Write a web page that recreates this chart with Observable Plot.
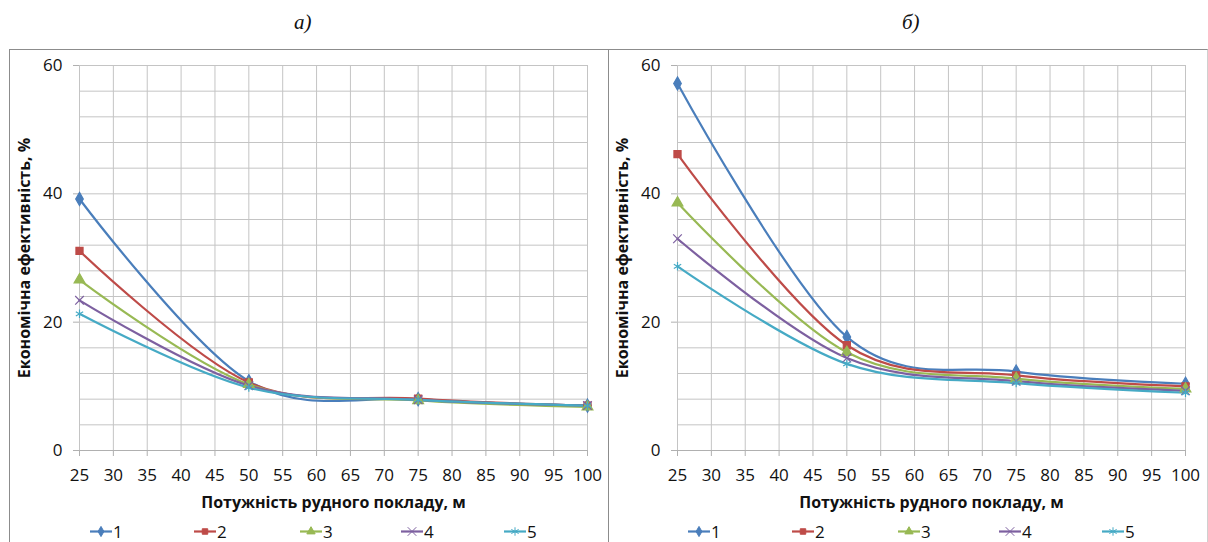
<!DOCTYPE html>
<html>
<head>
<meta charset="utf-8">
<script src="https://cdn.jsdelivr.net/npm/d3@7"></script>
<script src="https://cdn.jsdelivr.net/npm/@observablehq/plot@0.6"></script>
<style>
  html, body { margin: 0; padding: 0; background: #fff; }
  body { width: 1208px; height: 542px; position: relative; overflow: hidden; font-family: "Open Sans", sans-serif; }
  .title { position: absolute; top: 10px; font-family: "Liberation Serif", serif; font-style: italic; font-size: 21px; color: #111; }
  .panel { position: absolute; top: 49px; height: 500px; border-top: 1px solid #8c8c8c; box-sizing: border-box; }
  .legend { position: absolute; top: 472px; left: 0; height: 19px; }
  .legend .item { position: absolute; top: 0; height: 19px; display: flex; align-items: center; font-size: 17px; line-height: 17px; color: #111; }
  .legend svg { display: block; }
</style>
</head>
<body>
<div class="title" style="left:294px">а)</div>
<div class="title" style="left:902px">б)</div>
<div class="panel" id="pa" style="left:9px;width:600px;border-left:1px solid #8c8c8c;border-right:1px solid #8c8c8c;"></div>
<div class="panel" id="pb" style="left:608px;width:600px;border-right:1px solid #d0d0d0;"></div>
<script>
// ---- data ----
const thickness = [25, 50, 75, 100];
const seriesNames = ["1", "2", "3", "4", "5"];
const colors = ["#4a7ebb", "#be4b48", "#98b954", "#7d60a0", "#46aac5"];
const symbols = ["diamond", "square", "triangle", "times", "asterisk"];
const xTicks = [25, 30, 35, 40, 45, 50, 55, 60, 65, 70, 75, 80, 85, 90, 95, 100];
const yTicks = [0, 20, 40, 60];
const yGrid = [0, 4, 8, 12, 16, 20, 24, 28, 32, 36, 40, 44, 48, 52, 56, 60];
const xLabel = "Потужність рудного покладу, м";
const yLabel = "Економічна ефективність, %";

// panel а)
const a1 = [39.2, 10.8, 8.0, 7.0];
const a2 = [31.1, 10.6, 8.1, 7.0];
const a3 = [26.6, 10.3, 7.8, 6.8];
const a4 = [23.4, 10.1, 7.9, 7.0];
const a5 = [21.3, 9.8, 7.9, 7.0];
// panel б)
const b1 = [57.2, 17.7, 12.3, 10.4];
const b2 = [46.2, 16.4, 11.7, 10.0];
const b3 = [38.6, 15.3, 11.2, 9.6];
const b4 = [33.0, 14.4, 10.8, 9.3];
const b5 = [28.7, 13.5, 10.5, 9.0];

function toRows(series) {
  const rows = [];
  series.forEach((vals, i) => vals.forEach((v, j) => rows.push({s: seriesNames[i], x: thickness[j], y: v})));
  return rows;
}

function makeChart(series) {
  const data = toRows(series);
  const font = "Open Sans, sans-serif";
  return Plot.plot({
    width: 598, height: 466,
    marginLeft: 69, marginRight: 21, marginTop: 15, marginBottom: 66,
    style: {fontFamily: font, fontSize: "17px", color: "#111", background: "transparent"},
    x: {domain: [25, 100]},
    y: {domain: [0, 60]},
    color: {domain: seriesNames, range: colors},
    symbol: {domain: seriesNames, range: symbols},
    marks: [
      Plot.gridY(yGrid, {stroke: "#c4c4c4", strokeOpacity: 1, strokeWidth: 1}),
      Plot.gridX(xTicks, {stroke: "#c4c4c4", strokeOpacity: 1, strokeWidth: 1}),
      Plot.axisX(xTicks, {tickSize: 6, tickPadding: 12, stroke: "#b0b0b0", tickFormat: d => String(d),
        fontSize: 17, label: xLabel, labelAnchor: "center", labelArrow: "none", labelOffset: 57}),
      Plot.axisY(yTicks, {tickSize: 6, tickPadding: 11, stroke: "#b0b0b0", tickFormat: d => String(d),
        fontSize: 17, label: yLabel, labelAnchor: "center", labelArrow: "none", labelOffset: 61}),
      Plot.ruleY([0], {stroke: "#b0b0b0"}),
      Plot.line(data, {x: "x", y: "y", z: "s", stroke: "s", curve: "cardinal", tension: 0, strokeWidth: 2.2}),
      Plot.dot(data, {x: "x", y: "y", symbol: "s", fill: "s", stroke: "s", r: 4, strokeWidth: 1.2})
    ]
  });
}

function styleLabels(svg) {
  svg.querySelectorAll("g[aria-label='x-axis label'] text, g[aria-label='y-axis label'] text").forEach(t => {
    t.setAttribute("font-weight", "bold");
    t.setAttribute("font-size", "16px");
  });
}

function makeLegend() {
  const lg = document.createElement("div");
  lg.className = "legend";
  const lefts = [80, 184, 290, 391, 494];
  seriesNames.forEach((name, i) => {
    const it = document.createElement("div");
    it.className = "item";
    it.style.left = lefts[i] + "px";
    const sv = d3.create("svg").attr("width", 22).attr("height", 19);
    sv.append("line").attr("x1", 0).attr("x2", 22).attr("y1", 9.5).attr("y2", 9.5)
      .attr("stroke", colors[i]).attr("stroke-width", 2.2);
    const sym = [d3.symbolDiamond, d3.symbolSquare, d3.symbolTriangle, d3.symbolTimes, d3.symbolAsterisk][i];
    const filled = i < 3;
    sv.append("path").attr("d", d3.symbol(sym, filled ? 30 : 50)()).attr("transform", "translate(11,9.5)")
      .attr("fill", filled ? colors[i] : "none").attr("stroke", colors[i]).attr("stroke-width", 1);
    it.appendChild(sv.node());
    const sp = document.createElement("span");
    sp.textContent = name;
    sp.style.marginLeft = "1px";
    it.appendChild(sp);
    lg.appendChild(it);
  });
  return lg;
}

const pa = document.getElementById("pa");
const ca = makeChart([a1, a2, a3, a4, a5]);
styleLabels(ca);
pa.appendChild(ca);
pa.appendChild(makeLegend());

const pb = document.getElementById("pb");
const cb = makeChart([b1, b2, b3, b4, b5]);
styleLabels(cb);
pb.appendChild(cb);
pb.appendChild(makeLegend());
</script>
</body>
</html>
